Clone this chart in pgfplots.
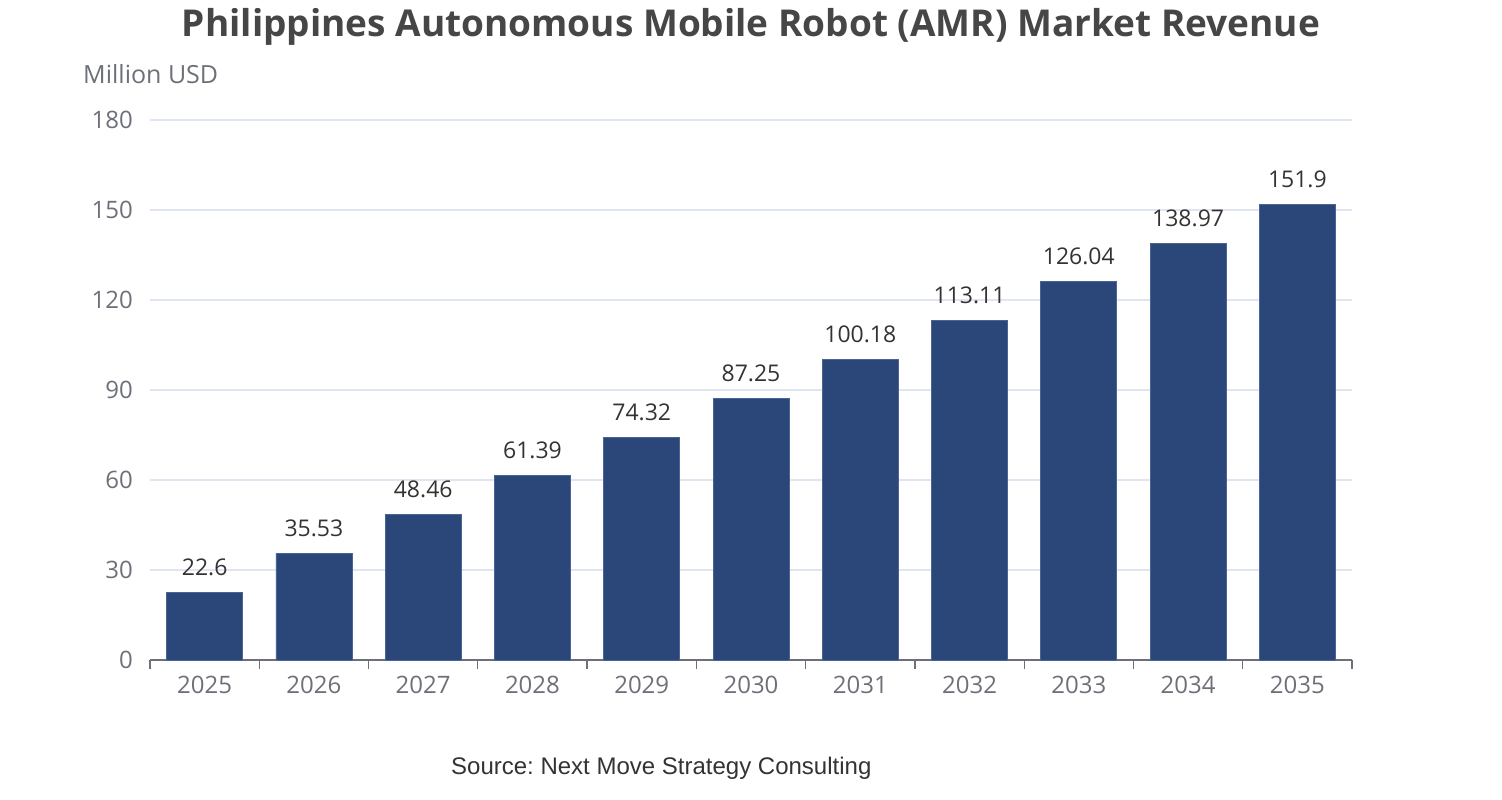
\documentclass[border=0pt]{standalone}
\usepackage{pgfplots}
\pgfplotsset{compat=1.18}
\usepackage{fontspec}
\setmainfont{Open Sans}
\newfontfamily\srcfont{Liberation Sans}
\definecolor{barc}{HTML}{2B4779}
\definecolor{barb}{HTML}{4A6494}
\definecolor{axc}{HTML}{6E7079}
\definecolor{gridc}{HTML}{E0E6F1}
\definecolor{titlec}{HTML}{464646}
\definecolor{labc}{HTML}{333333}
\frenchspacing
\begin{document}
\begin{tikzpicture}[x=1pt,y=1pt]
\useasboundingbox (0,0) rectangle (1502,800);
\begin{axis}[
  at={(150pt,140pt)}, anchor=south west,
  scale only axis, width=1202pt, height=540pt,
  xmin=-0.5, xmax=10.5, ymin=0, ymax=180,
  axis x line*=bottom, axis y line*=left,
  x axis line style={axc, line width=1.3pt, -},
  y axis line style={draw=none},
  xtick={0,...,10},
  xticklabels={2025,2026,2027,2028,2029,2030,2031,2032,2033,2034,2035},
  minor xtick={-0.5,0.5,...,10.5},
  major tick length=0pt,
  minor tick length=9pt,
  tick align=outside,
  minor tick style={axc, line width=1.3pt},
  ytick style={draw=none},
  xticklabel style={font=\fontsize{24}{24}\selectfont, text=axc, inner sep=0pt, anchor=base, yshift=-34pt},
  ytick={0,30,...,180},
  ymajorgrids, major grid style={draw=gridc, line width=1.6pt},
  yticklabel style={font=\fontsize{24}{24}\selectfont, text=axc, inner sep=0pt, anchor=east, xshift=-17pt},
  /pgf/number format/assume math mode=true,
  ybar, bar width=76pt,
  point meta=explicit symbolic,
  nodes near coords,
  nodes near coords style={font=\fontsize{23}{23}\selectfont, text=labc, inner sep=0pt, anchor=base, yshift=17pt},
  clip=false,
]
\addplot[fill=barc, draw=barb, line width=0.8pt] coordinates {
(0,22.6) [22.6]
(1,35.53) [35.53]
(2,48.46) [48.46]
(3,61.39) [61.39]
(4,74.32) [74.32]
(5,87.25) [87.25]
(6,100.18) [100.18]
(7,113.11) [113.11]
(8,126.04) [126.04]
(9,138.97) [138.97]
(10,151.9) [151.9]
};
\end{axis}
\node[anchor=base, inner sep=0pt, text=titlec, font=\fontsize{37}{37}\selectfont\bfseries] at (751,763) {Philippines Autonomous Mobile Robot (AMR) Market Revenue};
\node[anchor=base west, inner sep=0pt, text=axc, font=\fontsize{25}{25}\selectfont] at (83,716) {Million USD};
\node[anchor=base west, inner sep=0pt, text=labc, font=\srcfont\fontsize{24}{24}\selectfont] at (451,25) {Source: Next Move Strategy Consulting};
\end{tikzpicture}
\end{document}
